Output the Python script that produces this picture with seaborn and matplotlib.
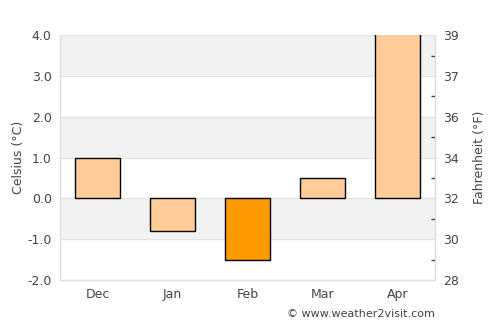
import numpy as np
import pandas as pd
import seaborn as sns
import matplotlib.pyplot as plt
from matplotlib.ticker import FixedLocator

# monthly average temperatures (Celsius)
months = ['Dec', 'Jan', 'Feb', 'Mar', 'Apr']
celsius = [1.0, -0.8, -1.5, 0.5, 4.3]
bar_colors = ['#ffcc99', '#ffcc99', '#ff9900', '#ffcc99', '#ffcc99']
c_ticks = [-2, -1, 0, 1, 2, 3, 4]

df = pd.DataFrame({'month': months, 'celsius': celsius})

sns.set_style('white')
plt.rcParams['font.family'] = ['DejaVu Sans']

fig, ax = plt.subplots(figsize=(5, 3.25), dpi=100)
fig.subplots_adjust(left=0.12, right=0.87, top=0.892, bottom=0.138)

# alternating background bands
for lo in [-1, 1, 3]:
    ax.axhspan(lo, lo + 1, color='#f2f2f2', zorder=0, lw=0)
for t in c_ticks:
    ax.axhline(t, color='#e3e3e3', lw=1, zorder=0.5)

sns.barplot(data=df, x='month', y='celsius', hue='month', palette=bar_colors,
            saturation=1, legend=False, width=0.6, edgecolor='black',
            linewidth=1, ax=ax, zorder=2)

ax.set_ylim(-2, 4)
ax.set_xlim(-0.5, 4.5)
ax.set_yticks(c_ticks)
ax.set_yticklabels([f'{t:.1f}' for t in c_ticks])
ax.set_xlabel('')
ax.set_ylabel('Celsius (°C)', color='#444444', fontsize=9, labelpad=2)
ax.tick_params(axis='both', length=0, labelsize=9, labelcolor='#444444', pad=6)
ax.spines['top'].set_visible(False)
for s in ['left', 'right', 'bottom']:
    ax.spines[s].set_color('#dddddd')
    ax.spines[s].set_linewidth(1)

# Fahrenheit axis on the right
ax2 = ax.twinx()
ax2.set_ylim(-2, 4)
ax2.set_yticks(c_ticks)
ax2.set_yticklabels([str(int(round(t * 9 / 5 + 32))) for t in c_ticks])
ax2.yaxis.set_minor_locator(FixedLocator([t + 0.5 for t in c_ticks[:-1]]))
ax2.tick_params(axis='y', which='major', length=0, labelsize=9, labelcolor='#444444', pad=6)
ax2.tick_params(axis='y', which='minor', length=3, direction='in', color='#444444', width=1)
ax2.set_ylabel('Fahrenheit (°F)', color='#444444', fontsize=9, labelpad=10)
for s in ['top', 'left', 'bottom']:
    ax2.spines[s].set_visible(False)
ax2.spines['right'].set_color('#dddddd')

fig.text(0.87, 0.035, '© www.weather2visit.com', ha='right', va='center',
         fontsize=8, color='#444444')

plt.savefig('out.png', dpi=100)
